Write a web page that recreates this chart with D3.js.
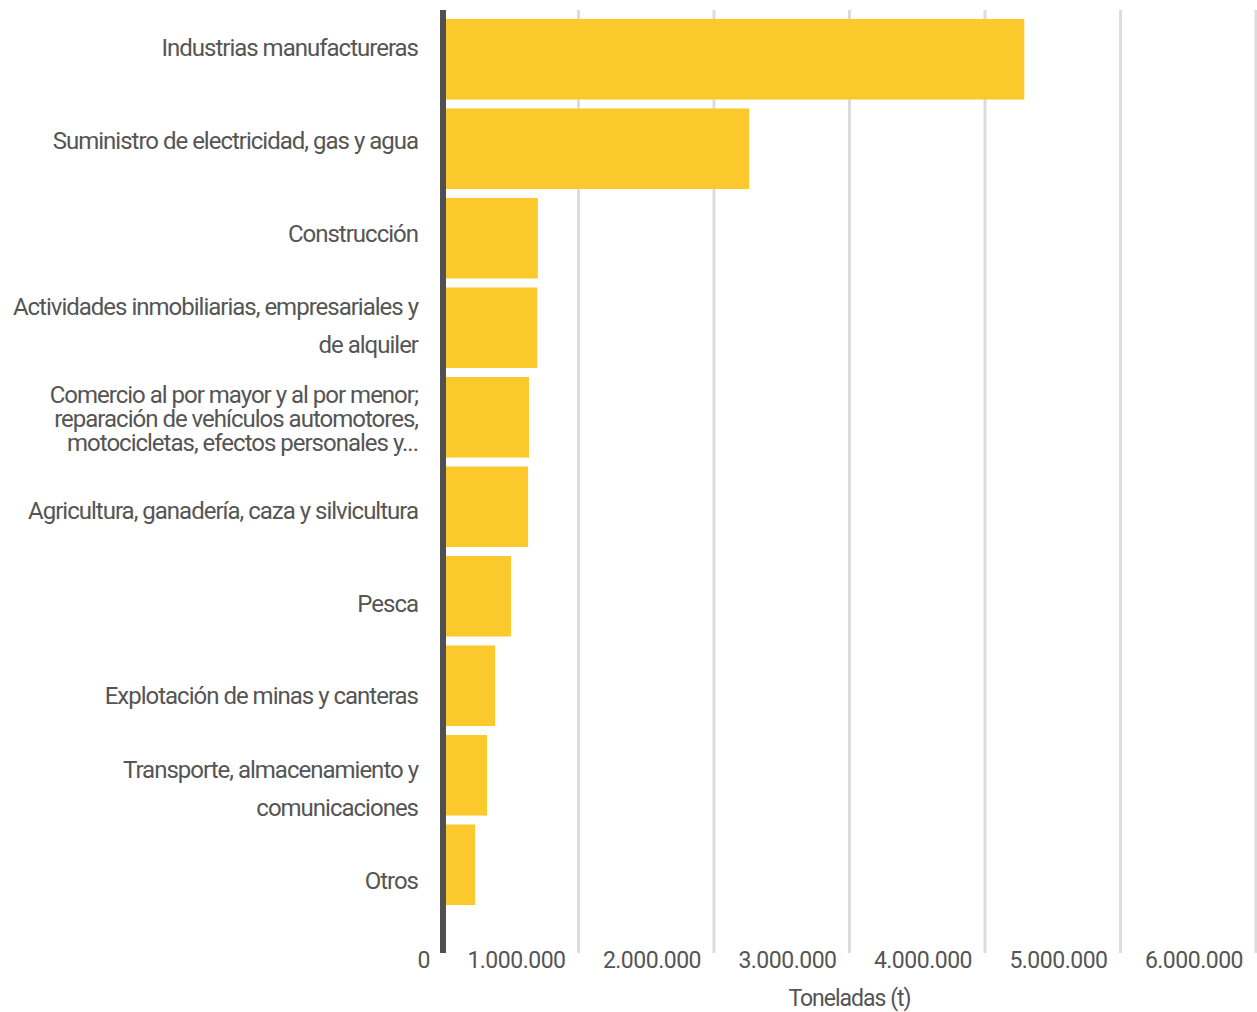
<!DOCTYPE html>
<html><head><meta charset="utf-8">
<script src="https://cdn.jsdelivr.net/npm/d3@7"></script>
<style>body{margin:0;background:#fff}svg{display:block}text{font-family:Roboto,"Liberation Sans",sans-serif;fill:#555}</style>
</head><body><svg id="c" width="1257" height="1012"></svg>
<script>
const categories = [
  ["Industrias manufactureras"],
  ["Suministro de electricidad, gas y agua"],
  ["Construcción"],
  ["Actividades inmobiliarias, empresariales y", "de alquiler"],
  ["Comercio al por mayor y al por menor;", "reparación de vehículos automotores,", "motocicletas, efectos personales y..."],
  ["Agricultura, ganadería, caza y silvicultura"],
  ["Pesca"],
  ["Explotación de minas y canteras"],
  ["Transporte, almacenamiento y", "comunicaciones"],
  ["Otros"]
];
const values = [4290000, 2260000, 700000, 695000, 635000, 628000, 502000, 385000, 325000, 237000];
const tickValues = [0, 1000000, 2000000, 3000000, 4000000, 5000000, 6000000];
const tickLabels = ["0", "1.000.000", "2.000.000", "3.000.000", "4.000.000", "5.000.000", "6.000.000"];
const axisTitle = "Toneladas (t)";

const svg = d3.select("#c");
const x = d3.scaleLinear().domain([0, 6000000]).range([443, 1256]);
const idx = d3.range(categories.length);
const y = d3.scaleBand().domain(idx).range([10, 914]).paddingInner(0.1).paddingOuter(0.1);
const yl = d3.scalePoint().domain(idx).range([48, 881]);
const plotTop = 10, plotBottom = 953;

svg.append("g").selectAll("line").data(tickValues.slice(1)).join("line")
  .attr("x1", d => x(d)).attr("x2", d => x(d)).attr("y1", plotTop).attr("y2", plotBottom)
  .attr("stroke", "#dcdcdc").attr("stroke-width", 3);

svg.append("g").selectAll("rect").data(values).join("rect")
  .attr("x", x(0) + 2).attr("y", (d, i) => y(i))
  .attr("width", d => x(d) - x(0) - 2).attr("height", y.bandwidth())
  .attr("fill", "#fbc92c");

svg.append("line").attr("x1", x(0)).attr("x2", x(0)).attr("y1", plotTop).attr("y2", plotBottom)
  .attr("stroke", "#505050").attr("stroke-width", 6);

svg.append("g").selectAll("text").data(tickValues).join("text")
  .attr("x", d => x(d) - 13).attr("y", 960).attr("dy", "0.35em")
  .attr("text-anchor", "end").style("font-size", "23px").style("letter-spacing", "-0.5px")
  .text((d, i) => tickLabels[i]);

svg.append("text").attr("x", x(3000000)).attr("y", 998).attr("dy", "0.35em")
  .attr("text-anchor", "middle").style("font-size", "23px").style("letter-spacing", "-1px")
  .text(axisTitle);

const lg = svg.append("g");
categories.forEach((lines, i) => {
  const lh = lines.length === 3 ? 24 : 38;
  const c = yl(i);
  lines.forEach((t, j) => {
    lg.append("text").attr("x", 418).attr("y", c + (j - (lines.length - 1) / 2) * lh)
      .attr("dy", "0.35em").attr("text-anchor", "end")
      .style("font-size", "24px").style("letter-spacing", "-1px").text(t);
  });
});
</script></body></html>
